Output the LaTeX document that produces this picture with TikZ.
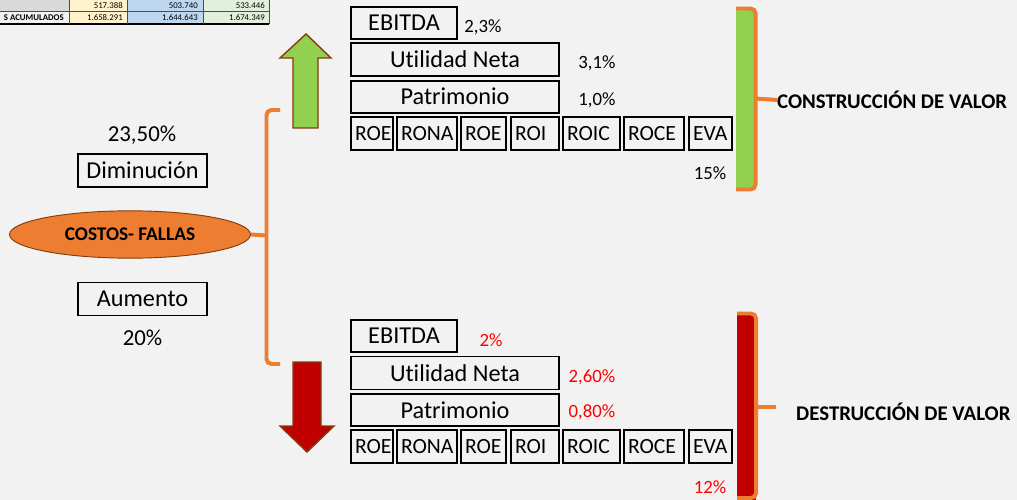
\documentclass[tikz,border=0pt]{standalone}
\usepackage{fontspec}
\setmainfont{Carlito}[RawFeature={-liga;-clig}]
\usetikzlibrary{shapes.geometric}

\definecolor{fondo}{HTML}{F2F2F2}
\definecolor{naranja}{HTML}{ED7D31}
\definecolor{verde}{HTML}{92D050}
\definecolor{rojo}{HTML}{C00000}
\definecolor{rojotexto}{HTML}{FF0000}
\definecolor{cafe}{HTML}{843C0C}
\definecolor{amarillo}{HTML}{FFF2CC}
\definecolor{azul}{HTML}{BDD7EE}
\definecolor{verdeclaro}{HTML}{E2EFDA}
\definecolor{gris}{HTML}{D9D9D9}

\tikzset{
  caja/.style={draw=black, line width=1.6pt, inner sep=0pt, minimum height=9.9mm,
    font=\fontsize{20.7}{24}\selectfont},
  celda/.style={draw=black, line width=1.6pt, inner xsep=1.2mm, inner ysep=0pt,
    minimum height=9.9mm, text width=#1, align=left, font=\fontsize{18.5}{21}\selectfont},
  pct/.style={inner sep=0pt, font=\fontsize{16}{19}\selectfont},
  pctrojo/.style={pct, text=rojotexto},
  grande/.style={inner sep=0pt, font=\fontsize{19.5}{23}\selectfont},
  titulo/.style={inner sep=0pt, anchor=west, font=\bfseries\fontsize{17.8}{21}\selectfont},
  tabla/.style={inner sep=0pt, font=\fontsize{7.5}{9}\selectfont},
  llave/.style={draw=naranja, line width=3.4pt, rounded corners=1.5mm},
  flecha/.style={draw=cafe, line width=1.2pt, line join=miter}
}

\begin{document}
\begin{tikzpicture}[x=0.3mm, y=-0.3mm]
\useasboundingbox (0,0) rectangle (1017,500);
\fill[fondo] (0,0) rectangle (1017,500);

%table at the top left
\fill[gris] (0,0) rectangle (69,11.5);
\fill[amarillo] (69,0) rectangle (127,24);
\fill[azul] (127,0) rectangle (203,24);
\fill[verdeclaro] (203,0) rectangle (269,24);
\draw[gray!60!black, line width=0.5pt] (0,11.5) -- (269,11.5);
\draw[black, line width=1pt] (0,24) -- (269,24);
\draw[gray!60!black, line width=0.6pt] (69,0) -- (69,24) (127,0) -- (127,24) (203,0) -- (203,24) (269,0) -- (269,24);
\node[tabla, anchor=east] (v11) at (123,6) {517.388};
\node[tabla, anchor=east] (v12) at (198,6) {503.740};
\node[tabla, anchor=east] (v13) at (265,6) {533.446};
\node[tabla, anchor=east, font=\bfseries\fontsize{7.5}{9}\selectfont] (acum) at (64,18) {S ACUMULADOS};
\node[tabla, anchor=east] (v21) at (123,18) {1.658.291};
\node[tabla, anchor=east] (v22) at (198,18) {1.644.643};
\node[tabla, anchor=east] (v23) at (265,18) {1.674.349};

%left side
\node[grande] (pctdism) at (142,135) {23,50\%};
\node[caja, minimum width=38.7mm] (dism) at (142.5,170.5) {Diminución};
\node[ellipse, draw=cafe, line width=0.8pt, fill=naranja, inner sep=0pt,
  minimum width=72.3mm, minimum height=14.2mm,
  font=\bfseries\fontsize{16.5}{19}\selectfont] (costos) at (130,234.5) {COSTOS- FALLAS};
\node[caja, minimum width=38.7mm] (aum) at (142.5,299) {Aumento};
\node[grande] (pctaum) at (142.5,337.5) {20\%};

%bracket
\coordinate (llave) at (266.5,235.5);
\draw[llave] (280,110) -- (266.5,110) -- (266.5,364) -- (280,364);
\draw[llave, rounded corners=0pt] (costos.east) -- (llave);

%arrows
\filldraw[flecha, fill=verde] (293,128) -- (293,58) -- (280,58) -- (306,34) -- (331,58) -- (318,58) -- (318,128) -- cycle;
\filldraw[flecha, fill=rojo] (293,362) -- (321,362) -- (321,426) -- (334,426) -- (307,452) -- (280,426) -- (293,426) -- cycle;

%top block:
\node[caja, minimum width=31.8mm, minimum height=9.6mm] (ebitdaA) at (404,23) {EBITDA};
\node[caja, minimum width=62.4mm] (utilA) at (455,59.5) {Utilidad Neta};
\node[caja, minimum width=62.4mm, minimum height=9.6mm] (patriA) at (455,96.7) {Patrimonio};
\node[celda=10.2mm] (roeA) at (372,133.5) {ROE};
\node[celda=15.6mm] (ronaA) at (427,133.5) {RONA};
\node[celda=11.1mm] (roebA) at (483.5,133.5) {ROE};
\node[celda=12.0mm] (roiA) at (535,133.5) {ROI};
\node[celda=14.7mm] (roicA) at (591.5,133.5) {ROIC};
\node[celda=15.6mm] (roceA) at (654,133.5) {ROCE};
\node[celda=10.5mm] (evaA) at (710.5,133.5) {EVA};
\node[pct] (p1A) at (483,27) {2,3\%};
\node[pct] (p2A) at (597,63) {3,1\%};
\node[pct] (p3A) at (597,100) {1,0\%};
\node[pct] (p4A) at (710,173) {15\%};

%green bar
\fill[verde] (736,9) rectangle (755,189);
\coordinate (llaveA) at (755.5,98.5);
\draw[llave] (736,8.5) -- (755.5,8.5) -- (755.5,189.5) -- (736,189.5);
\node[titulo] (constr) at (777,100) {CONSTRUCCIÓN DE VALOR};
\draw[llave, rounded corners=0pt] (llaveA) -- (constr.west);

%bottom block:
\node[caja, minimum width=31.8mm, minimum height=9.6mm] (ebitdaB) at (404,336) {EBITDA};
\node[caja, minimum width=62.4mm] (utilB) at (455,373) {Utilidad Neta};
\node[caja, minimum width=62.4mm, minimum height=9.6mm] (patriB) at (455,410) {Patrimonio};
\node[celda=10.2mm] (roeB) at (372,446.7) {ROE};
\node[celda=15.6mm] (ronaB) at (427,446.7) {RONA};
\node[celda=11.1mm] (roebB) at (483.5,446.7) {ROE};
\node[celda=12.0mm] (roiB) at (535,446.7) {ROI};
\node[celda=14.7mm] (roicB) at (591.5,446.7) {ROIC};
\node[celda=15.6mm] (roceB) at (654,446.7) {ROCE};
\node[celda=10.5mm] (evaB) at (710.5,446.7) {EVA};
\node[pctrojo] (p1B) at (491,340) {2\%};
\node[pctrojo] (p2B) at (592,377) {2,60\%};
\node[pctrojo] (p3B) at (592,412) {0,80\%};
\node[pctrojo] (p4B) at (710,487) {12\%};

%red bar
\fill[rojo] (737,314) rectangle (756,500);
\coordinate (llaveB) at (756,407);
\coordinate (finB) at (776,407);
\draw[llave] (737,313.5) -- (756,313.5) -- (756,498) -- (737,498);
\draw[llave, rounded corners=0pt] (llaveB) -- (finB);
\node[titulo] (destr) at (796,412) {DESTRUCCIÓN DE VALOR};
\end{tikzpicture}
\end{document}
